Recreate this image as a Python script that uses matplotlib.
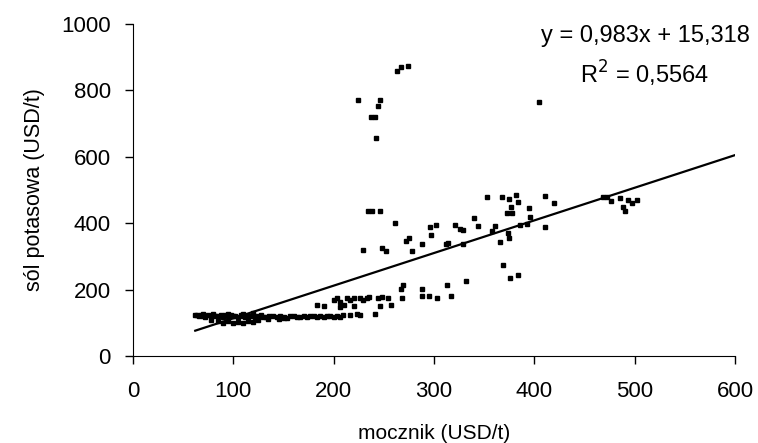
import matplotlib.pyplot as plt

plt.rcParams['font.family'] = ['Liberation Sans', 'DejaVu Sans']

# dane: mocznik (x) i sól potasowa (y), USD/t
mocznik = [
    62, 64, 66, 68, 70, 72, 75, 78, 80, 82, 85, 88, 90, 92, 95, 98, 100, 102,
    105, 108, 110, 112, 115, 118, 120, 122, 125, 128, 130, 133, 136, 140, 143,
    146, 150, 153, 156, 160, 163, 166, 170, 173, 176, 180, 183, 186, 190, 193,
    196, 200, 203, 206, 209,
    78, 85, 90, 95, 100, 105, 110, 115, 120, 125, 135, 145, 150,
    70, 80, 95, 110, 120,
    183, 190, 200, 203, 206, 210, 213, 216, 220, 226, 229, 233, 235, 244, 248,
    254, 257, 246, 220, 206, 226, 241, 216, 223,
    268, 269, 267, 288, 288, 295, 303, 313, 317, 332,
    229, 248, 252, 278, 272, 275, 288, 297, 312, 314, 329, 261, 234, 238, 246,
    296, 302, 321, 326, 329, 340, 344, 361, 358, 366, 374, 375, 369, 376, 384,
    353, 368, 375, 382, 384, 377, 373, 378, 395, 396, 411, 420, 411, 386, 393,
    224, 237, 241, 244, 246, 242, 263, 267, 274, 405,
    468, 472, 476, 485, 488, 490, 493, 497, 502,
]
sol_potasowa = [
    122, 124, 120, 123, 121, 118, 124, 120, 122, 119, 121, 124, 118, 122, 120,
    123, 119, 121, 117, 122, 120, 118, 121, 119, 123, 117, 120, 122, 118, 116,
    119, 121, 117, 120, 118, 115, 119, 121, 116, 118, 120, 117, 119, 121, 118,
    120, 116, 119, 121, 118, 120, 117, 122,
    108, 104, 100, 106, 98, 103, 100, 106, 102, 108, 110, 112, 114,
    128, 126, 128, 127, 130,
    153, 150, 168, 176, 163, 153, 176, 168, 176, 176, 170, 176, 178, 176, 178,
    176, 153, 150, 150, 148, 123, 128, 123, 128,
    176, 215, 203, 201, 180, 180, 176, 215, 180, 225,
    319, 324, 316, 316, 346, 354, 336, 364, 338, 341, 336, 401, 437, 437, 437,
    389, 394, 394, 384, 381, 417, 393, 393, 376, 344, 371, 354, 274, 235, 243,
    479, 479, 472, 486, 465, 449, 430, 430, 445, 420, 483, 460, 389, 394, 397,
    771, 720, 720, 753, 771, 657, 859, 871, 874, 765,
    478, 480, 468, 476, 450, 438, 470, 462, 470,
]

# linia trendu z równania
a = 0.983
b = 15.318
trend_x = [62, 600]

fig = plt.figure(figsize=(7.58, 4.43), dpi=100)
ax = fig.add_axes([0.1755, 0.1964, 0.7942, 0.7494])

ax.plot(mocznik, sol_potasowa, 's', color='black', ms=3.4, mec='black')
ax.plot(trend_x, [a * v + b for v in trend_x], color='black', lw=1.6)

ax.set_xlim(0, 600)
ax.set_ylim(0, 1000)
ax.set_xticks(range(0, 601, 100))
ax.set_yticks(range(0, 1001, 200))
ax.spines['top'].set_visible(False)
ax.spines['right'].set_visible(False)
ax.tick_params(direction='out', length=6, width=1, labelsize=16)
ax.tick_params(axis='x', pad=12)
ax.tick_params(axis='y', pad=10)

ax.set_xlabel('mocznik (USD/t)', fontsize=15, labelpad=16)
ax.set_ylabel('sól potasowa (USD/t)', fontsize=15.5, labelpad=12)

ax.text(1.025, 0.997, 'y = 0,983x + 15,318', transform=ax.transAxes,
        ha='right', va='top', fontsize=17)
ax.text(0.85, 0.895, 'R$^2$ = 0,5564', transform=ax.transAxes,
        ha='center', va='top', fontsize=17)

fig.savefig('out.png', dpi=100)
